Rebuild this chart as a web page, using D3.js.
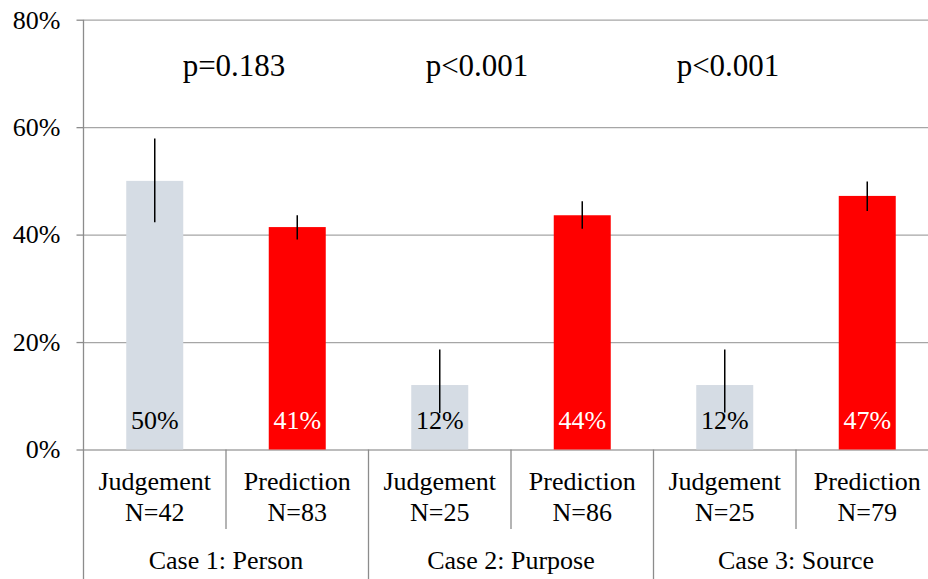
<!DOCTYPE html>
<html>
<head>
<meta charset="utf-8">
<script src="https://cdn.jsdelivr.net/npm/d3@7"></script>
</head>
<body style="margin:0;padding:0;background:#fff">
<svg id="chart" width="928" height="579" style="display:block"></svg>
<script>
// ---- data ----
const cases = ["Case 1: Person", "Case 2: Purpose", "Case 3: Source"];
const conditions = ["Judgement", "Prediction"];
const nValues = [42, 83, 25, 86, 25, 79];
const means = [0.500, 0.414, 0.120, 0.436, 0.120, 0.472];
const errLow = [0.423, 0.391, 0.068, 0.411, 0.069, 0.444];
const errHigh = [0.579, 0.436, 0.186, 0.462, 0.186, 0.499];
const valueLabels = ["50%", "41%", "12%", "44%", "12%", "47%"];
const pValues = ["p=0.183", "p<0.001", "p<0.001"];
const yTicks = [0, 0.2, 0.4, 0.6, 0.8];

// ---- layout / style ----
const FONT = '"Liberation Serif", "Times New Roman", serif';
const plotLeft = 83.5, plotRight = 938.5, plotTop = 19.7, plotZero = 449.5;
const pOffsets = [150.5, 108.5, 74.5]; // text-box placement inside each case group
const colors = { Judgement: "#d5dce4", Prediction: "#ff0000" };
const labelColors = { Judgement: "#000", Prediction: "#fff" };
const gridColor = "#a6a6a6";
const axisColor = "#8c8c8c";

const rows = nValues.map((n, i) => ({
  id: i,
  caseIdx: Math.floor(i / 2),
  cond: conditions[i % 2],
  n, mean: means[i], lo: errLow[i], hi: errHigh[i], label: valueLabels[i]
}));

const svg = d3.select("#chart");

function serif(sel, size) {
  sel.attr("font-size", size).attr("font-family", FONT)
     .style("font-family", FONT, "important")
     .style("font-size", size + "px", "important");
  return sel;
}

const x = d3.scaleBand().domain(rows.map(d => d.id)).range([plotLeft, plotRight]).padding(0);
const y = d3.scaleLinear().domain([0, 0.8]).range([plotZero, plotTop]);
const bw = x.bandwidth();
const barW = bw * 0.4;

// gridlines
svg.append("g")
  .attr("transform", `translate(${plotLeft},0)`)
  .call(d3.axisLeft(y).tickValues(yTicks).tickSize(-(plotRight - plotLeft)).tickFormat(""))
  .call(g => g.select(".domain").remove())
  .call(g => g.selectAll("line").attr("stroke", gridColor).attr("stroke-width", 1.3));

// bars
svg.append("g").selectAll("rect").data(rows).join("rect")
  .attr("x", d => x(d.id) + (bw - barW) / 2)
  .attr("width", barW)
  .attr("y", d => y(d.mean))
  .attr("height", d => y(0) - y(d.mean))
  .attr("fill", d => colors[d.cond]);

// value labels
svg.append("g").selectAll("text").data(rows).join("text")
  .attr("x", d => x(d.id) + bw / 2)
  .attr("y", y(0) - 20.5)
  .attr("text-anchor", "middle")
  .attr("fill", d => labelColors[d.cond])
  .call(serif, 26)
  .text(d => d.label);

// error bars
svg.append("g").selectAll("line").data(rows).join("line")
  .attr("x1", d => x(d.id) + bw / 2)
  .attr("x2", d => x(d.id) + bw / 2)
  .attr("y1", d => y(d.hi))
  .attr("y2", d => y(d.lo))
  .attr("stroke", "#000")
  .attr("stroke-width", 1.5);

// y axis
const yAxis = svg.append("g")
  .attr("transform", `translate(${plotLeft},0)`)
  .call(d3.axisLeft(y).tickValues(yTicks).tickFormat(d3.format(".0%")).tickSize(7).tickPadding(16));
yAxis.select(".domain").remove();
yAxis.selectAll("line").attr("stroke", axisColor).attr("stroke-width", 1.3);
yAxis.attr("font-family", FONT).attr("font-size", 26);
yAxis.selectAll("text").attr("fill", "#000").call(serif, 26);

// axis vertical line extending down through category labels
svg.append("line")
  .attr("x1", plotLeft).attr("x2", plotLeft).attr("y1", plotTop).attr("y2", 579)
  .attr("stroke", axisColor).attr("stroke-width", 1.3);

// category dividers
const dividers = rows.slice(1).map(d => ({ xPos: x(d.id), major: d.id % 2 === 0 }));
svg.append("g").selectAll("line").data(dividers).join("line")
  .attr("x1", d => d.xPos).attr("x2", d => d.xPos)
  .attr("y1", y(0)).attr("y2", d => d.major ? 579 : 529)
  .attr("stroke", axisColor).attr("stroke-width", 1.3);

// category labels
svg.append("g").selectAll("text").data(rows).join("text")
  .attr("x", d => x(d.id) + bw / 2).attr("y", 490)
  .attr("text-anchor", "middle").call(serif, 26)
  .text(d => d.cond);
svg.append("g").selectAll("text").data(rows).join("text")
  .attr("x", d => x(d.id) + bw / 2).attr("y", 521)
  .attr("text-anchor", "middle").call(serif, 26)
  .text(d => "N=" + d.n);

// case labels
svg.append("g").selectAll("text").data(cases).join("text")
  .attr("x", (d, i) => x(i * 2) + bw)
  .attr("y", 569)
  .attr("text-anchor", "middle").call(serif, 26)
  .text(d => d);

// p-values
svg.append("g").selectAll("text").data(pValues).join("text")
  .attr("x", (d, i) => x(i * 2) + pOffsets[i])
  .attr("y", 76)
  .attr("text-anchor", "middle").call(serif, 31)
  .text(d => d);
</script>
</body>
</html>
